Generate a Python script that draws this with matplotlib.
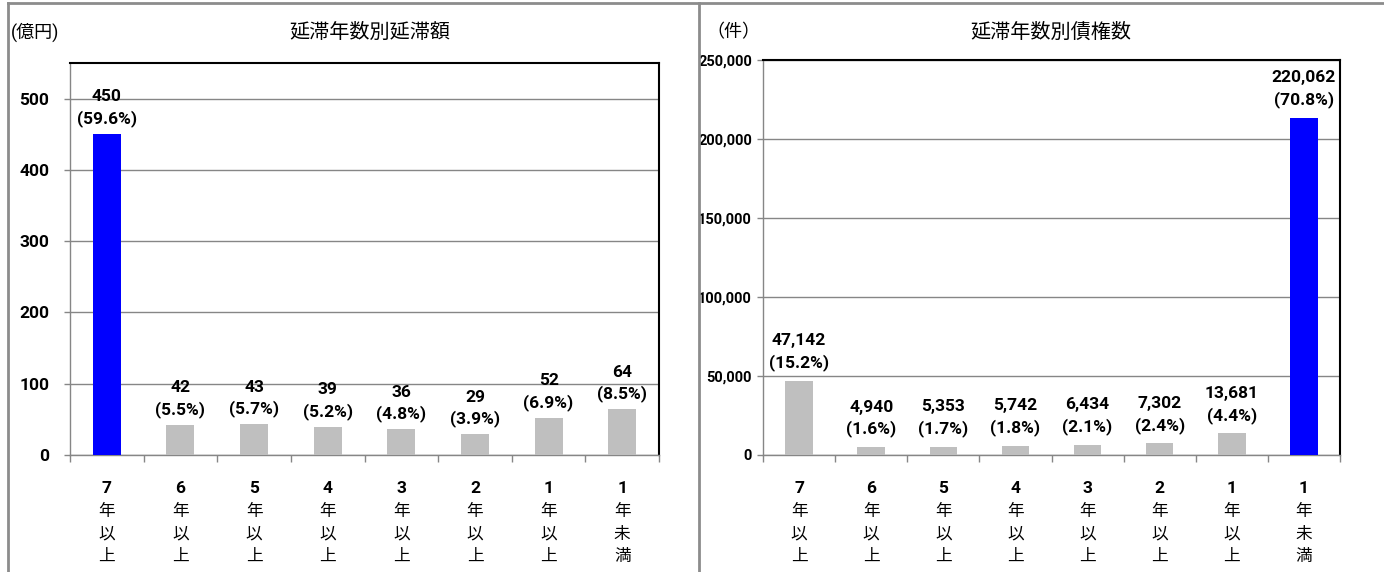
import numpy as np
import matplotlib.pyplot as plt
from matplotlib.lines import Line2D
from matplotlib.ticker import FuncFormatter

plt.rcParams['font.family'] = ['Roboto', 'Noto Sans CJK JP', 'DejaVu Sans']

# categories (number part is bold, the rest is regular)
years = ["7", "6", "5", "4", "3", "2", "1", "1"]
suffixes = ["年以上"] * 7 + ["年未満"]

# left: amount of arrears (億円)
amount = [450, 42, 43, 39, 36, 29, 52, 64]
amount_pct = [59.6, 5.5, 5.7, 5.2, 4.8, 3.9, 6.9, 8.5]

# right: number of claims (件)
count = [47142, 4940, 5353, 5742, 6434, 7302, 13681, 220062]
count_pct = [15.2, 1.6, 1.7, 1.8, 2.1, 2.4, 4.4, 70.8]
# the last bar in the source is drawn lower than its label says
count_bar = [47142, 4940, 5353, 5742, 6434, 7302, 13681, 213500]

blue = "#0000FF"
grey = "#BFBFBF"
line_grey = "#868686"
num_size = 12.5

fig = plt.figure(figsize=(13.84, 5.72), dpi=100)
ax1 = fig.add_axes([70 / 1384, 1 - 455 / 572, 589 / 1384, 392 / 572])
ax2 = fig.add_axes([763 / 1384, 1 - 455 / 572, 577 / 1384, 395 / 572])


def style_axes(ax, heights, labels, pcts, colors, ymax, step, fmt, pad,
               tick_size, offset, box):
    x = np.arange(len(heights))
    ax.bar(x, heights, width=0.38, color=colors, zorder=3)
    ax.set_xlim(-0.5, len(heights) - 0.5)
    ax.set_ylim(0, ymax)
    ax.set_yticks(np.arange(0, ymax + 1, step))
    ax.yaxis.set_major_formatter(FuncFormatter(fmt))
    ax.set_xticks(np.arange(-0.5, len(heights)))
    ax.set_xticklabels([])
    ax.tick_params(axis="x", length=5, color=line_grey, width=1)
    ax.tick_params(axis="y", length=4, color=line_grey, width=1, pad=pad,
                   labelsize=tick_size)
    for t in ax.get_yticklabels():
        t.set_fontweight("bold")
    ax.yaxis.grid(True, color=line_grey, lw=1)
    ax.set_axisbelow(True)
    for s in ("top", "right"):
        ax.spines[s].set_color("black")
        ax.spines[s].set_linewidth(1.5)
    for s in ("left", "bottom"):
        ax.spines[s].set_color(line_grey)
        ax.spines[s].set_linewidth(1)

    bbox = dict(fc="white", ec="none", pad=1) if box else None
    for i, (h, v, p) in enumerate(zip(heights, labels, pcts)):
        ax.annotate(f"{v:,}\n({p}%)", xy=(i, h), xytext=(0, offset),
                    textcoords="offset points", ha="center", va="bottom",
                    fontsize=num_size, fontweight="bold", linespacing=1.45,
                    bbox=bbox, zorder=5)

    for i in range(len(heights)):
        ax.annotate(years[i], xy=(i, 0), xycoords=("data", "axes fraction"),
                    xytext=(0, -24), textcoords="offset points",
                    ha="center", va="center", fontsize=num_size,
                    fontweight="bold", annotation_clip=False)
        for k, ch in enumerate(suffixes[i]):
            ax.annotate(ch, xy=(i, 0), xycoords=("data", "axes fraction"),
                        xytext=(0, -24 - 16.2 * (k + 1) - 0.5),
                        textcoords="offset points", ha="center", va="center",
                        fontsize=12, annotation_clip=False)


style_axes(ax1, amount, amount, amount_pct, [blue] + [grey] * 7,
           550, 100, lambda v, _: f"{int(v)}", 11, num_size, 5, False)
style_axes(ax2, count_bar, count, count_pct, [grey] * 7 + [blue],
           250000, 50000, lambda v, _: f"{int(v):,}", 4, 10.5, 7, True)

# titles and units
fig.text(370 / 1384, 1 - 32 / 572, "延滞年数別延滞額", ha="center", va="center",
         fontsize=14.5)
fig.text(1051 / 1384, 1 - 32 / 572, "延滞年数別債権数", ha="center", va="center",
         fontsize=14.5)
fig.text(11 / 1384, 1 - 32 / 572, "(億円)", ha="left", va="center", fontsize=13)
fig.text(706 / 1384, 1 - 32 / 572, "（件）", ha="left", va="center", fontsize=13)

# frame lines of the source table
fig.add_artist(Line2D([8 / 1384, 1], [1 - 3 / 572, 1 - 3 / 572],
                      color="#8c8c8c", lw=2))
fig.add_artist(Line2D([8 / 1384, 8 / 1384], [0, 1 - 3 / 572],
                      color="#8c8c8c", lw=2))
fig.add_artist(Line2D([699 / 1384, 699 / 1384], [0, 1 - 3 / 572],
                      color="#8c8c8c", lw=2))

plt.savefig("out.png", dpi=100)
